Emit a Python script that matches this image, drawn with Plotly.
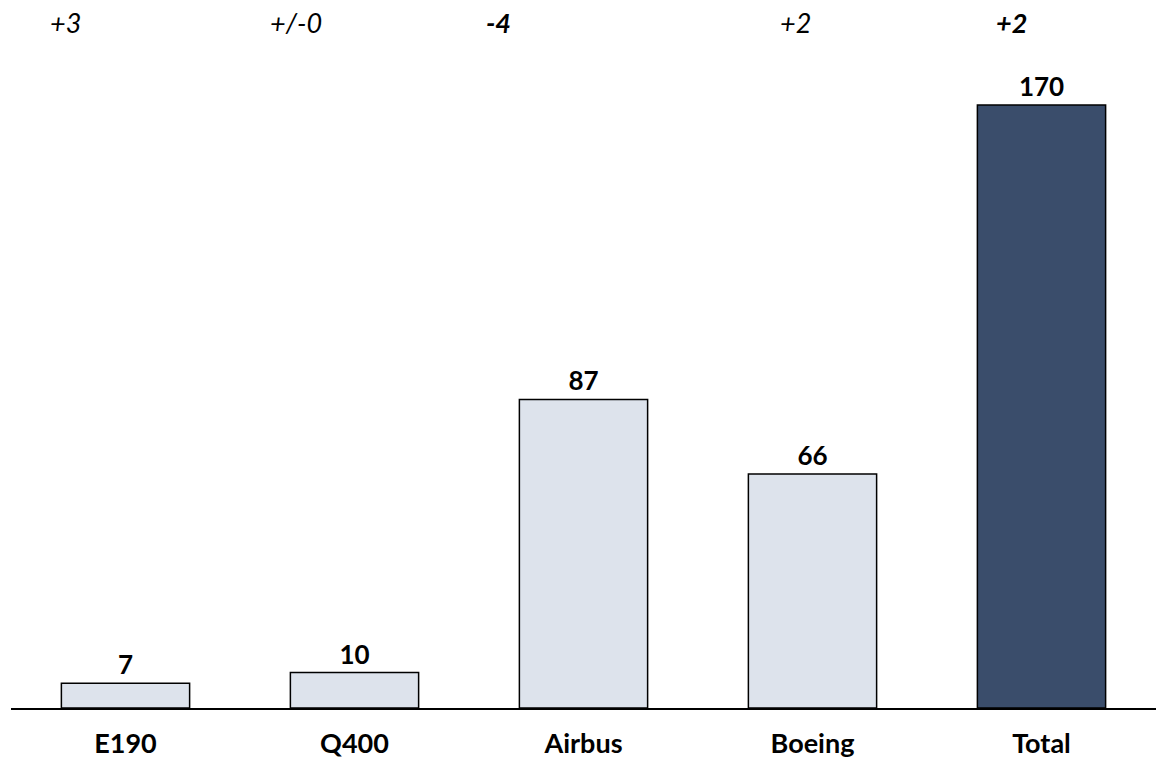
import plotly.graph_objects as go

categories = ["E190", "Q400", "Airbus", "Boeing", "Total"]
values = [7, 10, 87, 66, 170]
deltas = ["+3", "+/-0", "-4", "+2", "+2"]
delta_bold = [False, False, True, False, True]
bar_colors = ["#DDE3EC", "#DDE3EC", "#DDE3EC", "#DDE3EC", "#3A4D6B"]
delta_xshift = [-60, -59, -85, -17, -30]

FONT = "Lato, Calibri, Carlito, sans-serif"

fig = go.Figure()
fig.add_trace(go.Bar(
    x=categories, y=values,
    marker=dict(color=bar_colors, line=dict(color="#000000", width=1.5)),
    text=[str(v) for v in values], textposition="outside",
    textfont=dict(family=FONT, size=26, color="#000000", weight="bold"),
    cliponaxis=False, width=0.56,
))

for cat, d, b, xs in zip(categories, deltas, delta_bold, delta_xshift):
    fig.add_annotation(
        x=cat, y=1, xref="x", yref="paper", yanchor="middle",
        yshift=-22, xshift=xs,
        text=f"<b><i>{d}</i></b>" if b else f"<i>{d}</i>",
        showarrow=False,
        font=dict(family=FONT, size=27, color="#000000"),
    )

fig.update_layout(
    width=1159, height=763,
    margin=dict(l=11, r=3, t=0, b=55),
    plot_bgcolor="white", paper_bgcolor="white",
    showlegend=False,
    xaxis=dict(showline=True, linecolor="#000000", linewidth=1.5, ticks="",
               tickfont=dict(family=FONT, size=27, color="#000000", weight="bold"),
               ticklabelstandoff=11, range=[-0.5, 4.5], automargin=False),
    yaxis=dict(visible=False, range=[0, 199.6], showgrid=False, zeroline=False,
               automargin=False),
    uniformtext=dict(mode=False),
)

fig.write_html("out.html")
